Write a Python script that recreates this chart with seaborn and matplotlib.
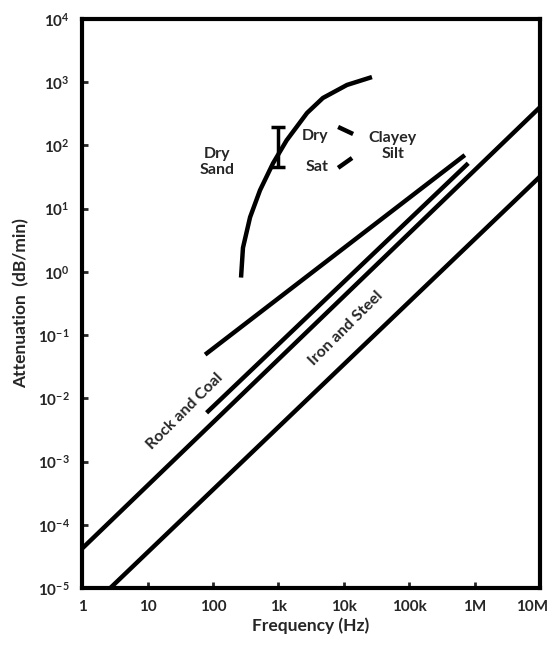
import numpy as np
import pandas as pd
import matplotlib
matplotlib.use("Agg")
import matplotlib.pyplot as plt
import matplotlib.transforms as mtransforms
import seaborn as sns

# straight lines (frequency Hz, attenuation dB/min) at their end points
rock_upper_f = [76, 7.1e5]
rock_upper_a = [0.049, 70]
rock_lower_f = [80, 8.0e5]
rock_lower_a = [0.0059, 52]
long_f = [1, 1e7]
long_a = [4.2e-5, 400]
iron_f = [2.7, 1e7]
iron_a = [1e-5, 32]

# dry sand curve
sand_f = [269, 288, 370, 525, 830, 1340, 2750, 4800, 11200, 27000]
sand_a = [0.81, 2.4, 7.3, 19.5, 52, 120, 325, 560, 900, 1200]

# error bar at 1 kHz
err_f = 1000
err_lo, err_hi = 45, 195

# clayey silt dashes
dry_dash_f = [8200, 13900]
dry_dash_a = [195, 151]
sat_dash_f = [8200, 13400]
sat_dash_a = [44, 63]

xticks = [1, 10, 100, 1e3, 1e4, 1e5, 1e6, 1e7]
xtick_labels = ['1', '10', '100', '1k', '10k', '100k', '1M', '10M']
yticks = [1e-5, 1e-4, 1e-3, 1e-2, 1e-1, 1e0, 1e1, 1e2, 1e3, 1e4]
ytick_labels = [r'$\mathbf{10^{%d}}$' % e for e in range(-5, 5)]

sns.set_style("white")
plt.rcParams['font.family'] = ['Lato', 'DejaVu Sans']
plt.rcParams['font.weight'] = 'bold'
plt.rcParams['mathtext.fontset'] = 'custom'
plt.rcParams['mathtext.rm'] = 'Lato'
plt.rcParams['mathtext.bf'] = 'Lato:bold'

fig = plt.figure(figsize=(5.51, 6.49), dpi=100)
ax = fig.add_axes([0.149, 0.094, 0.831, 0.877])

lw = 3.2
segs = [(rock_upper_f, rock_upper_a), (rock_lower_f, rock_lower_a),
        (long_f, long_a), (iron_f, iron_a), (sand_f, sand_a),
        (dry_dash_f, dry_dash_a), (sat_dash_f, sat_dash_a)]
for fx, ay in segs:
    df = pd.DataFrame({'f': fx, 'a': ay})
    sns.lineplot(data=df, x='f', y='a', ax=ax, color='black', lw=lw,
                 sort=False, solid_capstyle='butt')

mid = np.sqrt(err_lo * err_hi)
ax.errorbar([err_f], [mid], yerr=[[mid - err_lo], [err_hi - mid]],
            fmt='none', ecolor='black', elinewidth=2.5, capsize=5, capthick=2.5)

ax.set_xscale('log')
ax.set_yscale('log')
ax.set_xlim(1, 1e7)
ax.set_ylim(1e-5, 1e4)
ax.set_xticks(xticks)
ax.set_xticklabels(xtick_labels)
ax.set_yticks(yticks)
ax.set_yticklabels(ytick_labels)
ax.minorticks_off()
ax.tick_params(axis='both', direction='in', length=4, width=2, labelsize=11,
               pad=9, bottom=True, left=True, top=False, right=False)
for lab in ax.get_xticklabels():
    lab.set_fontweight('bold')
last = ax.get_xticklabels()[-1]
last.set_transform(last.get_transform() +
                   mtransforms.ScaledTranslation(-6 / 72, 0, fig.dpi_scale_trans))
for s in ax.spines.values():
    s.set_linewidth(3)
    s.set_color('black')

ax.set_xlabel('Frequency (Hz)', fontsize=12.5, fontweight='bold', labelpad=2)
ax.set_ylabel('Attenuation  (dB/min)', fontsize=12.5, fontweight='bold', labelpad=6)

tk = dict(fontsize=11.5, fontweight='bold', ha='center', va='center')
ax.text(115, 54, 'Dry\nSand', linespacing=1.2, **tk)
ax.text(3600, 141, 'Dry', **tk)
ax.text(3900, 45, 'Sat', **tk)
ax.text(56000, 98, 'Clayey\nSilt', linespacing=1.2, **tk)
ax.text(37, 0.0063, 'Rock and Coal', rotation=45, rotation_mode='anchor', **tk)
ax.text(10800, 0.126, 'Iron and Steel', rotation=45, rotation_mode='anchor', **tk)

fig.savefig('out.png', dpi=100)
